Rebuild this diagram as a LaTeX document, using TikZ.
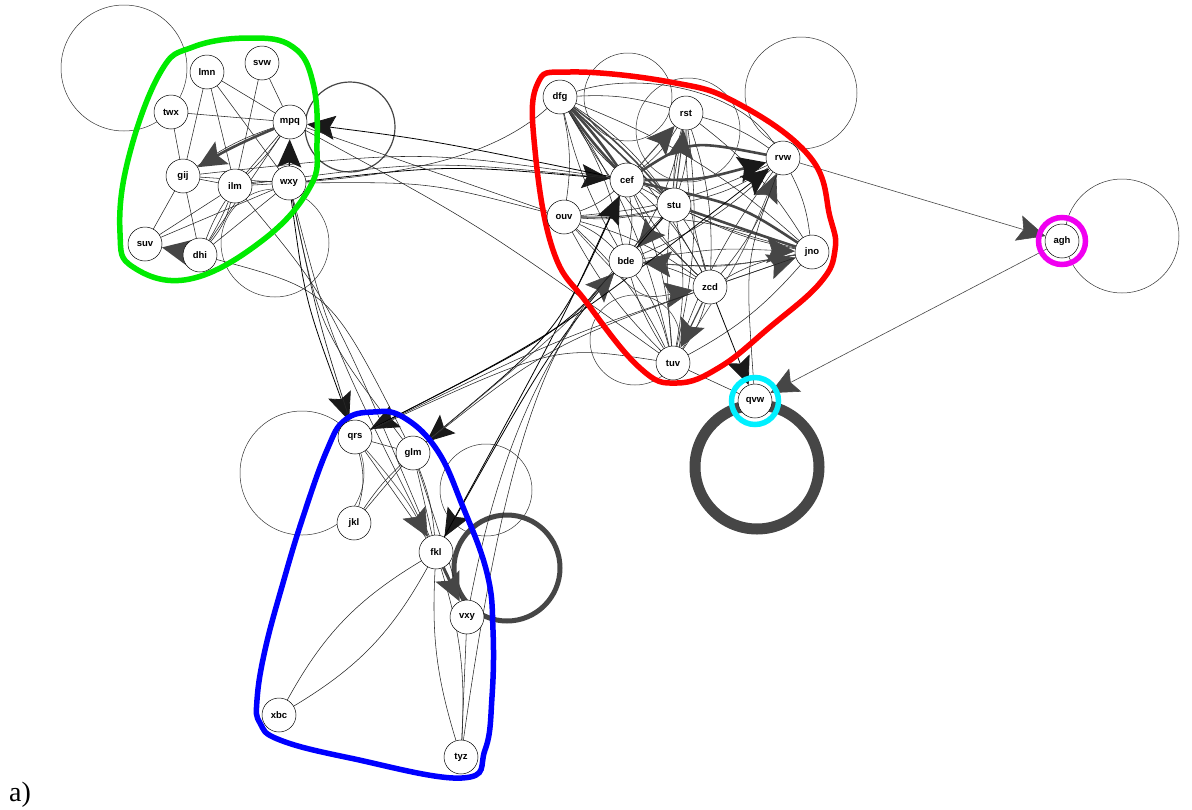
\documentclass[tikz,border=0pt]{standalone}
\usepackage{fontspec}
\setmainfont{Liberation Serif}
\newfontfamily\labfont{Liberation Sans}
\usetikzlibrary{arrows.meta,calc}

\definecolor{hullgreen}{RGB}{0,235,0}
\definecolor{ringcyan}{RGB}{0,240,255}
\definecolor{ringmagenta}{RGB}{240,0,240}
\definecolor{edgegray}{RGB}{70,70,70}
\pgfdeclarelayer{bg}
\pgfsetlayers{bg,main}

\tikzset{
  vtx/.style={circle,draw,line width=0.5pt,fill=white,minimum size=34pt,inner sep=0pt,
    font=\labfont\bfseries\fontsize{9.5}{9.5}\selectfont},
  lnk/.style={line width=0.55pt,black!85},
  hvl/.style={line width=2.6pt,edgegray},
  hvg/.style={line width=0.6pt,edgegray,-{Stealth[length=28pt,width=26pt,inset=5pt]}},
  hvb/.style={line width=2.6pt,edgegray,-{Stealth[length=28pt,width=26pt,inset=5pt,color=black!90]}},
  arw/.style={line width=0.8pt,black,-{Stealth[length=28pt,width=24pt,inset=5pt,color=black!90]}},
  lp/.style={line width=0.5pt,black!80},
  hull/.style={line width=5.5pt},
  ring/.style={line width=5.5pt}
}

\begin{document}
\begin{tikzpicture}[x=1pt,y=-1pt]
\useasboundingbox (0,0) rectangle (1192,809);

% green group
\node[vtx] (lmn) at (207,72) {lmn};
\node[vtx] (svw) at (262,63) {svw};
\node[vtx] (twx) at (171,112) {twx};
\node[vtx] (mpq) at (290,122) {mpq};
\node[vtx] (gij) at (183,176) {gij};
\node[vtx] (ilm) at (235,186) {ilm};
\node[vtx] (wxy) at (289,183) {wxy};
\node[vtx] (suv) at (145,244) {suv};
\node[vtx] (dhi) at (200,255) {dhi};
% red group
\node[vtx] (dfg) at (560,97) {dfg};
\node[vtx] (rst) at (686,113) {rst};
\node[vtx] (rvw) at (783,158) {rvw};
\node[vtx] (cef) at (627,180) {cef};
\node[vtx] (stu) at (674,205) {stu};
\node[vtx] (ouv) at (564,217) {ouv};
\node[vtx] (bde) at (626,261) {bde};
\node[vtx] (jno) at (812,252) {jno};
\node[vtx] (zcd) at (710,287) {zcd};
\node[vtx] (tuv) at (673,363) {tuv};
% blue group
\node[vtx] (qrs) at (355,437) {qrs};
\node[vtx] (glm) at (413,453) {glm};
\node[vtx] (jkl) at (354,523) {jkl};
\node[vtx] (fkl) at (436,552) {fkl};
\node[vtx] (vxy) at (467,617) {vxy};
\node[vtx] (xbc) at (279,715) {xbc};
\node[vtx] (tyz) at (461,757) {tyz};
% single ones
\node[vtx] (agh) at (1062,241) {agh};
\node[vtx] (qvw) at (755,401) {qvw};

\draw[ring,ringmagenta] (agh.center) circle[radius=23.5pt];
\draw[ring,ringcyan] (qvw.center) circle[radius=23.5pt];

\node[anchor=base west,font=\fontsize{28}{28}\selectfont,inner sep=0pt] (lbl) at (9,801) {a)};

\begin{pgfonlayer}{bg}
% self loops
\draw[lp] ($(twx)+(-47,-44)$) circle[radius=63pt];
\draw[lp,line width=1.2pt,edgegray] ($(mpq)+(60,5)$) circle[radius=45pt];
\draw[lp] ($(dhi)+(75,-12)$) circle[radius=54pt];
\draw[lp] ($(rst)+(-58,-16)$) circle[radius=44pt];
\draw[lp] ($(rst)+(2,17)$) circle[radius=52pt];
\draw[lp] ($(rvw)+(18,-65)$) circle[radius=56pt];
\draw[lp] ($(tuv)+(-38,-23)$) circle[radius=45pt];
\draw[lp] ($(agh)+(60,-5)$) circle[radius=57pt];
\draw[lp] ($(qrs)+(-53,36)$) circle[radius=62pt];
\draw[lp] ($(glm)+(73,37)$) circle[radius=46pt];
\draw[line width=5pt,edgegray] ($(fkl)+(71,16)$) circle[radius=53pt];
\draw[line width=11pt,edgegray] ($(qvw)+(2,66)$) circle[radius=62pt];

% green group edges
\foreach \a/\b in {lmn/gij,lmn/mpq,lmn/wxy,lmn/ilm,svw/ilm,svw/mpq,twx/mpq,twx/gij,
  gij/suv,gij/ilm,gij/wxy,ilm/mpq,ilm/wxy,ilm/suv,mpq/dhi,wxy/dhi,suv/wxy,gij/dhi}
  \draw[lnk] (\a) -- (\b);
\foreach \k in {-6,4,12}
  \draw[lnk] (ilm) to[bend left=\k] (dhi);
\draw[lnk] (gij) to[bend left=8] (mpq);
\draw[lnk] (ilm) to[bend left=8] (wxy);
\draw[hvg,line width=2.6pt] (mpq) to[bend right=4] (gij);
\draw[hvg,line width=2.6pt] (dhi) -- (suv);
\draw[lnk] (ilm) to[bend right=6] (mpq);
\draw[arw,line width=1.4pt] (wxy) -- (mpq);

% green to red
\draw[arw] (wxy) .. controls (450,165) .. (cef);
\draw[arw] (cef) .. controls (430,140) .. (mpq);
\draw[lnk] (ilm) .. controls (430,160) .. (cef);
\draw[lnk] (gij) .. controls (420,150) .. (cef);
\draw[lnk] (wxy) .. controls (430,182) .. (ouv);
\draw[lnk] (wxy) .. controls (430,172) and (500,150) .. (dfg);
\draw[lnk] (mpq) -- (ouv);
\draw[lnk] (mpq) .. controls (480,225) .. (tuv);

% green to blue
\draw[arw] (wxy) .. controls (305,300) .. (qrs);
\draw[lnk,line width=0.7pt] (wxy) .. controls (318,320) .. (qrs);
\draw[lnk] (ilm) .. controls (330,300) .. (fkl);
\draw[lnk] (dhi) .. controls (330,290) .. (glm);
\draw[lnk] (wxy) .. controls (330,340) .. (fkl);
\draw[lnk] (wxy) .. controls (320,330) .. (glm);

% red group edges
\foreach \a/\b in {dfg/rst,dfg/stu,dfg/bde,dfg/zcd,dfg/tuv,dfg/jno,dfg/ouv,
  rst/cef,rst/stu,rst/bde,rst/zcd,rst/tuv,rst/jno,rst/rvw,
  rvw/stu,rvw/bde,rvw/zcd,rvw/jno,rvw/ouv,
  cef/stu,cef/ouv,cef/bde,cef/zcd,cef/tuv,
  stu/ouv,stu/zcd,stu/tuv,
  ouv/bde,ouv/zcd,ouv/tuv,ouv/jno,
  bde/zcd,bde/tuv,zcd/tuv,zcd/jno,jno/tuv}
  \draw[lnk] (\a) to[bend left=10] (\b);
\foreach \a/\b in {dfg/cef,rst/stu,cef/zcd,bde/tuv,stu/jno,rvw/tuv,ouv/tuv,rst/zcd,
  dfg/bde,dfg/zcd,cef/jno,bde/jno,ouv/stu,rst/tuv}
  \draw[lnk] (\a) to[bend right=8] (\b);
\draw[lnk] (dfg) .. controls (640,70) and (740,90) .. (rvw);
\draw[hvl] (dfg) to[bend left=4] (cef);
\draw[hvl] (dfg) to[bend right=4] (cef);
\draw[hvl,line width=1.6pt] (dfg) -- (stu);
\draw[hvl,line width=1.6pt] (dfg) to[bend left=6] (stu);
\draw[hvg,line width=1pt] (cef) -- (rst);
\draw[hvg,line width=1pt] (stu) -- (rst);
\draw[hvl] (cef) .. controls (690,140) .. (rvw);
\draw[hvb] (cef) .. controls (700,180) .. (rvw);
\draw[hvl] (cef) .. controls (740,205) .. (jno);
\draw[hvl] (stu) .. controls (760,235) .. (jno);
\draw[hvg] (bde) .. controls (720,248) .. (jno);
\draw[hvg] (zcd) -- (jno);
\draw[hvg,line width=1.2pt] (stu) -- (bde);
\draw[hvg] (jno) .. controls (720,268) .. (bde);
\draw[hvg] (ouv) .. controls (640,300) .. (zcd);
\draw[hvg,line width=1.2pt] (zcd) -- (tuv);
\draw[hvg] (tuv) .. controls (740,260) .. (rvw);

% red to blue and back
\draw[arw] (bde) .. controls (555,335) .. (qrs);
\draw[arw] (cef) .. controls (560,330) .. (glm);
\draw[arw] (stu) .. controls (555,340) .. (fkl);
\draw[arw] (fkl) .. controls (560,325) .. (cef);
\draw[hvg] (glm) .. controls (555,335) .. (bde);
\draw[arw] (qrs) .. controls (555,335) .. (rvw);
\draw[lnk] (zcd) .. controls (555,340) .. (qrs);
\draw[lnk] (jno) .. controls (555,340) .. (glm);
\draw[lnk] (tuv) .. controls (555,345) .. (qrs);
\draw[lnk] (stu) .. controls (560,320) and (505,420) .. (vxy);
\draw[lnk] (bde) .. controls (540,340) and (500,480) .. (tyz);

% red to the single ones
\draw[arw] (zcd) -- (qvw);
\draw[lnk] (rvw) .. controls (745,260) .. (qvw);
\draw[hvg] (rvw) -- (agh);
\draw[hvg] (agh) -- (qvw);
\draw[lnk] (tuv) -- (qvw);

% blue group edges
\foreach \a/\b in {qrs/glm,glm/jkl,qrs/fkl,glm/fkl,glm/vxy,vxy/tyz}
  \draw[lnk] (\a) -- (\b);
\draw[lnk] (qrs) to[bend left=15] (jkl);
\draw[lnk] (glm) to[bend right=6] (jkl);
\draw[lnk] (fkl) to[bend left=15] (xbc);
\draw[lnk] (fkl) to[bend right=15] (xbc);
\draw[lnk] (fkl) to[bend left=10] (tyz);
\draw[lnk] (fkl) to[bend right=10] (tyz);
\draw[lnk] (glm) to[bend left=8] (fkl);
\draw[hvg] (qrs) to[bend left=6] (fkl);
\draw[hvg,line width=3pt] (fkl) -- (vxy);

% groups
\draw[hull,hullgreen] plot[smooth cycle,tension=0.7] coordinates {
  (160,73) (193,47) (250,38) (293,47) (313,83) (317,143) (310,187)
  (263,240) (190,279) (133,267) (120,233) (128,160)};
\draw[hull,red] plot[smooth cycle,tension=0.7] coordinates {
  (537,85) (570,72) (670,82) (737,103) (810,157) (830,217) (835,250)
  (820,283) (770,327) (720,367) (677,383) (640,368) (587,303) (553,250) (535,150)};
\draw[hull,blue] plot[smooth cycle,tension=0.7] coordinates {
  (373,412) (403,417) (437,450) (463,507) (487,573) (493,630) (492,697)
  (485,750) (462,778) (350,758) (280,740) (260,723) (257,700) (265,650)
  (283,583) (303,517) (327,450) (345,420)};
\end{pgfonlayer}
\end{tikzpicture}
\end{document}
